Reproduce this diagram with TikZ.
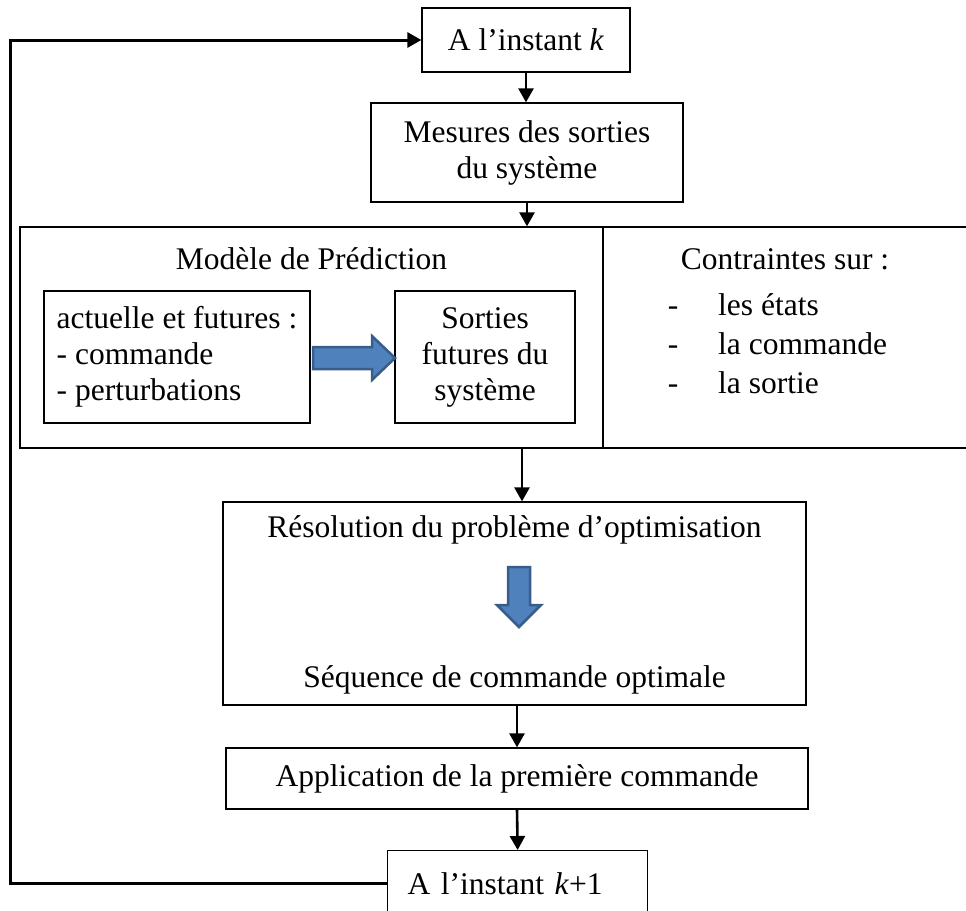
\documentclass[tikz,border=0pt]{standalone}
\usepackage{fontspec}
\setmainfont{Liberation Serif}
\usetikzlibrary{arrows.meta,calc}

\definecolor{blocbleu}{HTML}{4F81BD}
\definecolor{blocbord}{HTML}{385D8A}

\begin{document}
\begin{tikzpicture}[
  x=1pt, y=-1pt,
  font=\fontsize{31.5}{36}\selectfont,
  >={Triangle[length=14pt,width=15pt]},
  boite/.style={draw,line width=1.3pt,inner sep=0pt,align=center},
  fleche/.style={->,line width=2.6pt},
  bloc/.style={fill=blocbleu,draw=blocbord,line width=2.5pt,line join=miter}
]
\useasboundingbox (0,0) rectangle (966,910);

% debut de la boucle
\node[boite,minimum width=208,minimum height=64] (inst) at (526,40) {A l’instant \textit{k}};
\node[boite,minimum width=312,minimum height=99] (mes) at (527,152.5) {Mesures des sorties\\du système};

% modele de prediction et contraintes
\node[boite,minimum width=583,minimum height=221] (modele) at (311.5,337.5) {};
\node[boite,minimum width=372,minimum height=221,anchor=west] (contr) at (603,337.5) {};
\node (titre) at (311.5,259) {Modèle de Prédiction};
\node[boite,minimum width=266,minimum height=132,align=left] (act) at (177,357) {actuelle et futures :\\- commande\\- perturbations};
\node[boite,minimum width=180,minimum height=132] (sort) at (485,357) {Sorties\\futures du\\système};
\draw[bloc] (313,347) -- (372,347) -- (372,336) -- (395,358) -- (372,380) -- (372,369) -- (313,369) -- cycle;

\node (ctitre) at (785,259) {Contraintes sur :};
\foreach \yy/\txt in {315/les états,354/la commande,393/la sortie}{
  \node[anchor=base,inner sep=0pt] (tiret-\yy) at (673,\yy) {-};
  \node[anchor=base west,inner sep=0pt] (item-\yy) at (718,\yy) {\txt};
}

% optimisation
\node[boite,minimum width=583,minimum height=203] (resol) at (514.5,603.5) {};
\node (resol1) at (514.5,530) {Résolution du problème d’optimisation};
\node (resol2) at (514.5,680) {Séquence de commande optimale};
\draw[bloc] (508,567) -- (530,567) -- (530,605) -- (541,605) -- (519,627) -- (497,605) -- (508,605) -- cycle;

% application et instant suivant
\node[boite,minimum width=582,minimum height=61] (appl) at (517,778.5) {Application de la première commande};
\node[boite,minimum width=260,minimum height=66,anchor=north west,align=left,inner xsep=20pt,text width=220pt] (k1) at (387,850) {A l’instant \textit{k}+1};

% fleches
\coordinate (jonction) at (522,448);
\coordinate (retour) at (10,0);
\draw[fleche] (inst.south) -- (inst.south |- mes.north);
\draw[fleche] (mes.south) -- (mes.south |- modele.north);
\draw[fleche] (jonction) -- (jonction |- resol.north);
\draw[fleche] (appl.north |- resol.south) -- (appl.north);
\draw[fleche] (appl.south) -- (k1.north);
\draw[fleche,line width=3pt] (k1.west) -- (k1.west -| retour) |- (inst.west);

\end{tikzpicture}
\end{document}
